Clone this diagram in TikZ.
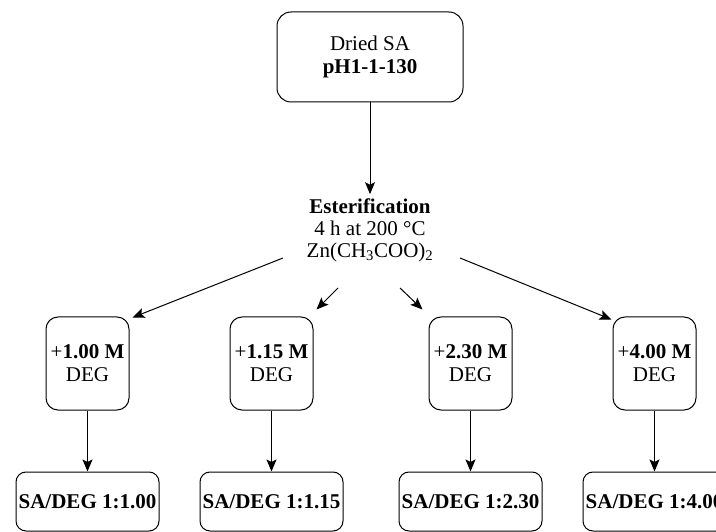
\documentclass[tikz,border=0pt]{standalone}
\usepackage{fontspec}
\setmainfont{Liberation Serif}
\usetikzlibrary{arrows.meta,calc}
\begin{document}
\begin{tikzpicture}[x=1pt,y=-1pt,
  box/.style={draw,line width=1pt,align=center,inner sep=0pt,font=\fontsize{21}{23}\selectfont},
  topbox/.style={box,minimum width=186pt,minimum height=90pt,rounded corners=14pt},
  midbox/.style={box,minimum width=83pt,minimum height=93pt,rounded corners=12pt},
  botbox/.style={box,minimum width=143pt,minimum height=59pt,rounded corners=10pt},
  plain/.style={align=center,inner xsep=0pt,inner ysep=4pt,font=\fontsize{21}{22}\selectfont},
  arr/.style={line width=1pt,-{Stealth[length=12pt,width=10pt,inset=2.5pt]}}]
\useasboundingbox (0,0) rectangle (716,532);
\clip (0,0) rectangle (716,532);
\node[topbox] (top) at (370,57) {Dried SA\\\textbf{pH1-1-130}};
\node[plain] (est) at (370,230) {\textbf{Esterification}\\4 h at 200 °C\\Zn(CH\textsubscript{3}COO)\textsubscript{2}};
\node[midbox] (m1) at (87.5,363.5) {+\textbf{1.00 M}\\DEG};
\node[midbox] (m2) at (271.5,363.5) {+\textbf{1.15 M}\\DEG};
\node[midbox] (m3) at (470.5,363.5) {+\textbf{2.30 M}\\DEG};
\node[midbox] (m4) at (654.5,363.5) {+\textbf{4.00 M}\\DEG};
\node[botbox] (b1) at (87.5,501.5) {\textbf{SA/DEG 1:1.00}};
\node[botbox] (b2) at (271.5,501.5) {\textbf{SA/DEG 1:1.15}};
\node[botbox] (b3) at (470.5,501.5) {\textbf{SA/DEG 1:2.30}};
\node[botbox] (b4) at (654.5,501.5) {\textbf{SA/DEG 1:4.00}};
\draw[arr] (top.south) -- (est.north);
\draw[arr] ($(est.center)+(-87,28)$) -- ($(m1.north east)+(3,1)$);
\draw[arr] ($(est.center)+(-32,58)$) -- ($(m2.north east)+(3,-7)$);
\draw[arr] ($(est.center)+(30,58)$) -- ($(m3.north west)+(-6,-7)$);
\draw[arr] ($(est.center)+(90,28)$) -- ($(m4.north west)+(-1,3)$);
\draw[arr] (m1.south) -- (b1.north);
\draw[arr] (m2.south) -- (b2.north);
\draw[arr] (m3.south) -- (b3.north);
\draw[arr] (m4.south) -- (b4.north);
\end{tikzpicture}
\end{document}
